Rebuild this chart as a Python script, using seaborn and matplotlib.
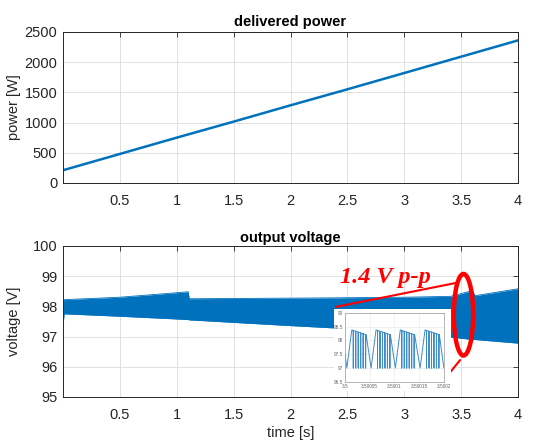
import numpy as np
import pandas as pd
import matplotlib
matplotlib.use("Agg")
import matplotlib.pyplot as plt
import seaborn as sns
from matplotlib.patches import Ellipse, Rectangle

# ---------------- data ----------------
power_t = [0.0, 0.5, 1.0, 1.5, 2.0, 2.5, 3.0, 3.5, 4.0]
power_w = [210, 480, 750, 1015, 1285, 1550, 1820, 2090, 2360]

# envelope of the (dense) output-voltage ripple band
volt_t = [0.0, 0.01, 0.5, 1.0, 1.1, 1.11, 2.0, 2.4, 3.0, 3.41, 3.6, 3.62, 4.0]
volt_hi = [98.20, 98.22, 98.30, 98.45, 98.48, 98.25, 98.27, 98.28, 98.30, 98.33, 98.52, 98.35, 98.58]
volt_lo = [97.30, 97.75, 97.67, 97.58, 97.56, 97.55, 97.36, 97.28, 97.15, 96.98, 96.90, 96.90, 96.78]

# zoomed inset waveform (time offsets in microseconds from 3.5 s)
inset_start = (0.0, 97.55)
inset_valley_us = [4, 53, 102, 152, 200]
inset_peak_us = [14, 63, 112, 162]
inset_spike_us = [[17, 22, 27, 32, 37, 42],
                  [66, 71, 76, 81, 86, 91],
                  [115, 120, 125, 130, 135, 140],
                  [165, 170, 175, 180, 185, 190]]
inset_spike_top = [[98.36, 98.33, 98.30, 98.27, 98.24, 98.21],
                   [98.36, 98.33, 98.30, 98.27, 98.24, 98.21],
                   [98.36, 98.33, 98.30, 98.27, 98.24, 98.21],
                   [98.36, 98.33, 98.30, 98.27, 98.24, 98.21]]
inset_fall_us = [43, 92, 141, 191]
inset_valley_v = 97.0
inset_peak_v = 98.38
inset_fall_v = 98.20
inset_spike_low = 97.0

x_ticks = [0.5, 1, 1.5, 2, 2.5, 3, 3.5, 4]
x_labels = ["0.5", "1", "1.5", "2", "2.5", "3", "3.5", "4"]
p_ticks = [0, 500, 1000, 1500, 2000, 2500]
v_ticks = [95, 96, 97, 98, 99, 100]
in_x_ticks = [3.5, 3.50005, 3.5001, 3.50015, 3.5002]
in_x_labels = ["3.5", "3.50005", "3.5001", "3.50015", "3.5002"]
in_y_ticks = [96.5, 97, 97.5, 98, 98.5, 99]
in_y_labels = ["96.5", "97", "97.5", "98", "98.5", "99"]

# ---------------- build inset polyline table ----------------
pts = [inset_start]
for k in range(len(inset_peak_us)):
    pts.append((inset_valley_us[k], inset_valley_v))
    pts.append((inset_peak_us[k], inset_peak_v))
    for s, top in zip(inset_spike_us[k], inset_spike_top[k]):
        pts += [(s, top), (s, inset_spike_low), (s, top)]
    pts.append((inset_fall_us[k], inset_fall_v))
pts.append((inset_valley_us[-1], inset_valley_v))
inset_df = pd.DataFrame(pts, columns=["us", "v"])
inset_df["t"] = 3.5 + inset_df["us"] * 1e-6

power_df = pd.DataFrame({"t": power_t, "p": power_w})

# ---------------- style ----------------
sns.set_theme(style="white")
plt.rcParams["font.family"] = ["Liberation Sans", "DejaVu Sans"]
TXT = "#262626"
BLUE = "#0072BD"

fig = plt.figure(figsize=(5.38, 4.43), dpi=100)
ax1 = fig.add_axes([0.117, 0.587, 0.846, 0.341])
ax2 = fig.add_axes([0.117, 0.104, 0.846, 0.341])


def style_axes(ax):
    for sp in ax.spines.values():
        sp.set_color(TXT)
        sp.set_linewidth(0.7)
    ax.grid(True, color="#dcdcdc", lw=0.6)
    ax.set_axisbelow(True)
    ax.tick_params(direction="in", top=True, right=True, length=3.5, width=0.6,
                   colors=TXT, labelsize=10.5, labelcolor=TXT)
    ax.tick_params(axis="x", pad=8)
    ax.tick_params(axis="y", pad=4)
    ax.set_xlim(0, 4)
    ax.set_xticks(x_ticks)
    ax.set_xticklabels(x_labels)


# top: delivered power
sns.lineplot(data=power_df, x="t", y="p", ax=ax1, color=BLUE, lw=1.8,
             estimator=None, sort=False)
style_axes(ax1)
ax1.set_ylim(0, 2500)
ax1.set_yticks(p_ticks)
ax1.set_xlabel("")
ax1.set_ylabel("power [W]", fontsize=10.5, color=TXT)
ax1.yaxis.set_label_coords(-0.092, 0.5)
ax1.set_title("delivered power", fontsize=10.5, fontweight="bold", color="black", pad=4)

# bottom: output voltage
ax2.fill_between(volt_t, volt_lo, volt_hi, color=BLUE, lw=0, zorder=2)
sns.lineplot(x=volt_t, y=volt_hi, ax=ax2, color=BLUE, lw=0.6, estimator=None, sort=False)
sns.lineplot(x=volt_t, y=volt_lo, ax=ax2, color=BLUE, lw=0.6, estimator=None, sort=False)
style_axes(ax2)
ax2.set_ylim(95, 100)
ax2.set_yticks(v_ticks)
ax2.set_xlabel("time [s]", fontsize=10.5, color=TXT)
ax2.xaxis.set_label_coords(0.5, -0.195)
ax2.set_ylabel("voltage [V]", fontsize=10.5, color=TXT)
ax2.yaxis.set_label_coords(-0.092, 0.5)
ax2.set_title("output voltage", fontsize=10.5, fontweight="bold", color="black", pad=3)

# red annotation
ax2.text(2.435, 98.76, "1.4 V p-p", color="red", fontsize=17.5, fontweight="bold",
         fontstyle="italic", family=["Liberation Serif", "DejaVu Serif"], va="baseline",
         zorder=6)
ax2.plot([2.40, 3.45], [97.98, 98.77], color="red", lw=1.5, zorder=6)
ax2.plot([3.37, 3.49], [95.66, 96.22], color="red", lw=1.5, zorder=6)
ax2.add_patch(Ellipse((3.52, 97.72), width=0.17, height=2.7, fill=False,
                      ec="red", lw=3.2, zorder=7))

# white box behind inset
fig.add_artist(Rectangle((0.621, 0.117), 0.2175, 0.185, transform=fig.transFigure,
                         facecolor="white", edgecolor="none", zorder=1))

# inset
axi = fig.add_axes([0.641, 0.138, 0.184, 0.156])
axi.set_zorder(3)
sns.lineplot(data=inset_df, x="t", y="v", ax=axi, color="#3d8cc8", lw=0.7,
             estimator=None, sort=False)
axi.set_xlim(3.5, 3.5002)
axi.set_ylim(96.5, 99)
axi.set_xticks(in_x_ticks)
axi.set_xticklabels(in_x_labels)
axi.set_yticks(in_y_ticks)
axi.set_yticklabels(in_y_labels)
axi.set_xlabel("")
axi.set_ylabel("")
axi.grid(True, color="#e6e6e6", lw=0.4)
for sp in axi.spines.values():
    sp.set_color("#9a9a9a")
    sp.set_linewidth(0.5)
axi.tick_params(direction="in", length=1.2, width=0.4, labelsize=3.4,
                colors="#666666", pad=1.2)

fig.savefig("out.png", dpi=100)
